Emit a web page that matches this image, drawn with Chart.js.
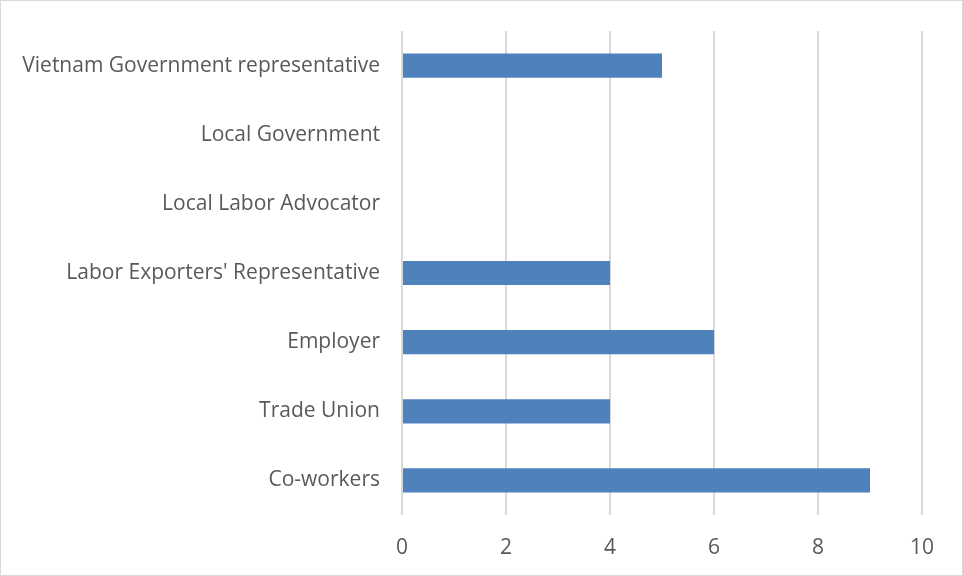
<!DOCTYPE html>
<html>
<head>
<meta charset="utf-8">
<script src="https://cdn.jsdelivr.net/npm/chart.js@4/dist/chart.umd.min.js"></script>
<style>
  html, body { margin: 0; padding: 0; background: #fff; }
  #wrap { width: 963px; height: 576px; position: relative; }
</style>
</head>
<body>
<div id="wrap"><canvas id="barChart" width="963" height="576"></canvas></div>
<script>
// categories top to bottom, with their counts
var categories = [
  'Vietnam Government representative',
  'Local Government',
  'Local Labor Advocator',
  "Labor Exporters' Representative",
  'Employer',
  'Trade Union',
  'Co-workers'
];
var counts = [5, 0, 0, 4, 6, 4, 9];
var xTicks = [0, 2, 4, 6, 8, 10];

var GRID = '#d9d9d9';
var TEXT = '#595959';

// white background + thin frame round the whole chart
var framePlugin = {
  id: 'frame',
  beforeDraw: function(chart) {
    var ctx = chart.ctx;
    ctx.save();
    ctx.fillStyle = '#fff';
    ctx.fillRect(0, 0, chart.width, chart.height);
    ctx.strokeStyle = GRID;
    ctx.lineWidth = 1;
    ctx.strokeRect(0.5, 0.5, chart.width - 1, chart.height - 1);
    ctx.restore();
  }
};

new Chart(document.getElementById('barChart'), {
  type: 'bar',
  data: {
    labels: categories,
    datasets: [{
      data: counts,
      backgroundColor: '#4f81bd',
      borderWidth: 0,
      barPercentage: 0.35,
      categoryPercentage: 1
    }]
  },
  plugins: [framePlugin],
  options: {
    indexAxis: 'y',
    responsive: false,
    animation: false,
    layout: { padding: { top: 31, right: 41, bottom: 0, left: 0 } },
    plugins: { legend: { display: false }, tooltip: { enabled: false } },
    scales: {
      x: {
        min: 0, max: 10,
        afterBuildTicks: function(scale) {
          scale.ticks = xTicks.map(function(v) { return { value: v }; });
        },
        afterFit: function(scale) { scale.height = 61; },
        grid: { color: GRID, lineWidth: 2, drawTicks: false },
        border: { display: false },
        ticks: { color: TEXT, padding: 20, font: { family: 'Open Sans', size: 21 } }
      },
      y: {
        afterFit: function(scale) {
          scale.width = 402;
          // label padding shouldn't push the plot down
          scale.paddingTop = 0;
          scale.paddingBottom = 0;
        },
        grid: { display: false, drawTicks: false },
        border: { display: false },
        ticks: { color: TEXT, padding: 22, font: { family: 'Open Sans', size: 21 } }
      }
    }
  }
});
</script>
</body>
</html>
